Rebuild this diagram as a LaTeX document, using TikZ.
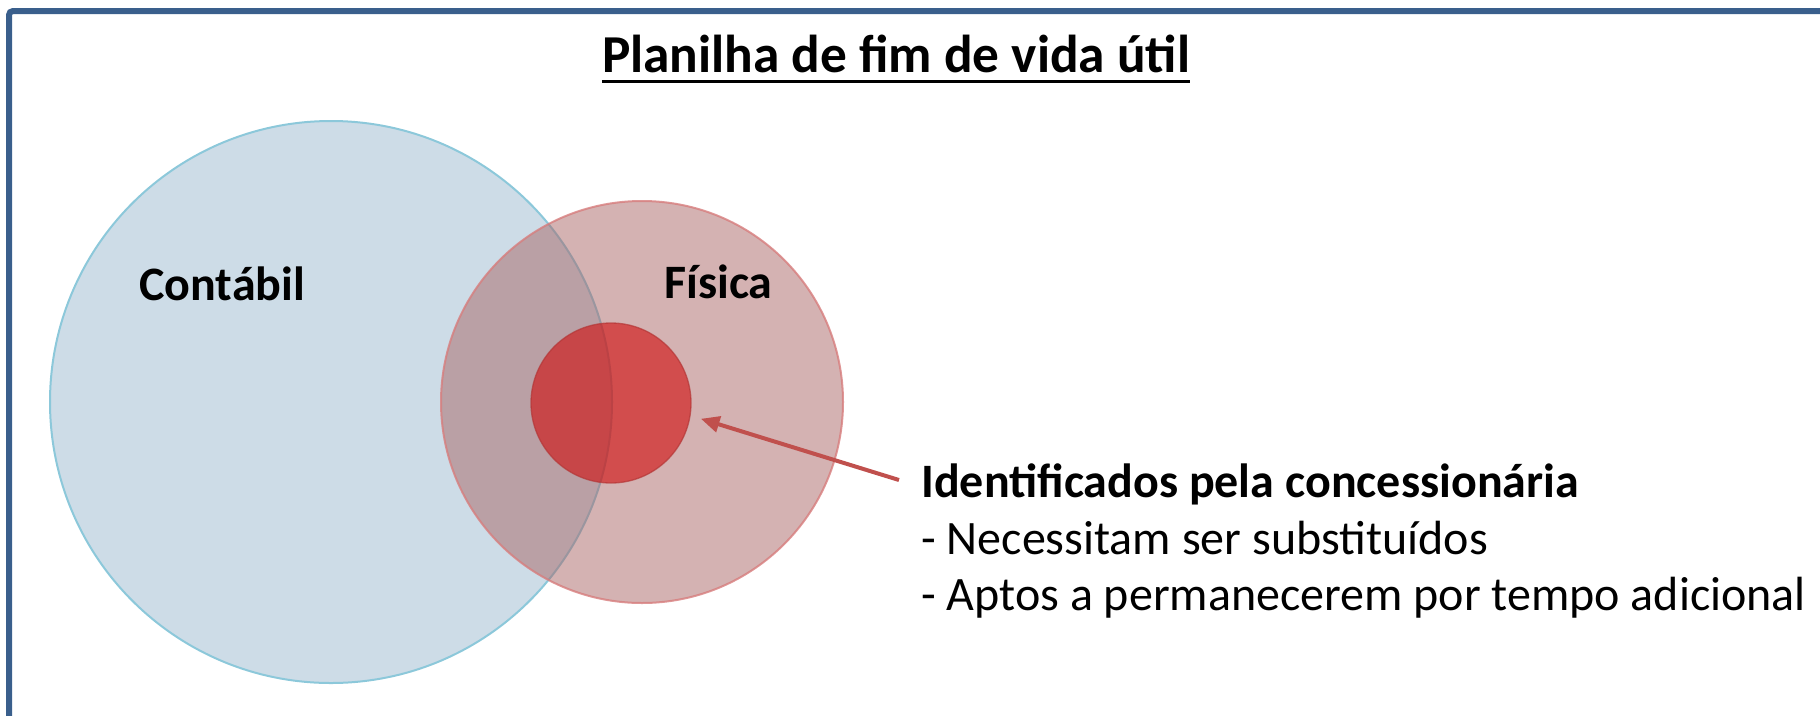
\documentclass[tikz,border=0pt]{standalone}
\usepackage{fontspec}
\setmainfont{Carlito}
\usetikzlibrary{arrows.meta}
\definecolor{frameblue}{RGB}{58,95,140}
\definecolor{setblue}{RGB}{205,220,231}
\definecolor{setblueline}{RGB}{140,200,218}
\definecolor{setpink}{RGB}{169,101,101}
\definecolor{setpinkline}{RGB}{215,125,125}
\definecolor{corered}{RGB}{209,10,10}
\definecolor{corereddraw}{RGB}{180,55,55}
\definecolor{arrowred}{RGB}{192,80,77}
\begin{document}
\begin{tikzpicture}[x=0.75pt,y=-0.75pt,
  setlabel/.style={font=\bfseries\fontsize{36}{43}\selectfont, anchor=base west, inner sep=0pt},
  bodytext/.style={font=\fontsize{36}{43}\selectfont, anchor=base west, inner sep=0pt},
  pointer/.style={draw=arrowred, line width=3pt, -{Triangle[length=14pt,width=12pt]}}]
\useasboundingbox (0,0) rectangle (1820,715);
\begin{scope}
\clip (0,0) rectangle (1820,715);
\draw[frameblue, line width=4.5pt, rounded corners=3pt] (9,11) rectangle (1950,800);
\end{scope}

\node[circle, minimum size=421.5pt, inner sep=0pt, fill=setblue, draw=setblueline, line width=1.5pt] (contabil) at (331,402) {};
\node[circle, minimum size=301.5pt, inner sep=0pt, fill=setpink, fill opacity=0.5, draw=setpinkline, draw opacity=0.8, line width=1.5pt] (fisica) at (642,402) {};
\node[circle, minimum size=120pt, inner sep=0pt, fill=corered, fill opacity=0.6, draw=corereddraw, draw opacity=0.7, line width=1pt] (core) at (611,403) {};

\node[font=\bfseries\fontsize{40}{48}\selectfont, anchor=base, inner sep=0pt] (title) at (896,72) {Planilha de fim de vida útil};
\draw[line width=2.25pt] ([yshift=-6.75pt]title.base west) -- ([yshift=-6.75pt]title.base east);

\node[setlabel] (lcontabil) at (139,300) {Contábil};
\node[setlabel] (lfisica) at (664,298) {Física};

\node[setlabel] (ident) at (921,497) {Identificados pela concessionária};
\node[bodytext] (linea) at (921,554) {- Necessitam ser substituídos};
\node[bodytext] (lineb) at (921,610) {- Aptos a permanecerem por tempo adicional};

\coordinate (tail) at (899,480);
\draw[pointer, shorten >=8pt] (tail) -- (core.-9);
\end{tikzpicture}
\end{document}
